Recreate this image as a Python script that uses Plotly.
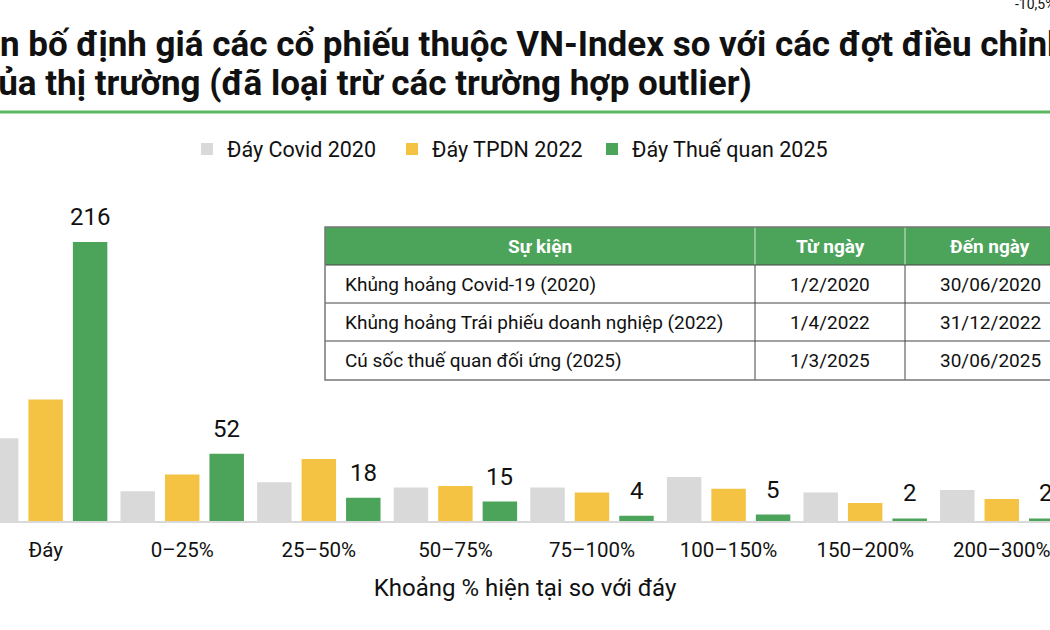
import plotly.graph_objects as go

categories = ["Đáy", "0–25%", "25–50%", "50–75%", "75–100%", "100–150%", "150–200%", "200–300%"]
covid_2020 = [64, 23, 30, 26, 26, 34, 22, 24]
tpdn_2022 = [94, 36, 48, 27, 22, 25, 14, 17]
thue_quan_2025 = [216, 52, 18, 15, 4, 5, 2, 2]
series_names = ["Đáy Covid 2020", "Đáy TPDN 2022", "Đáy Thuế quan 2025"]

table_header = ["Sự kiện", "Từ ngày", "Đến ngày"]
table_events = ["Khủng hoảng Covid-19 (2020)", "Khủng hoảng Trái phiếu doanh nghiệp (2022)", "Cú sốc thuế quan đối ứng (2025)"]
table_from = ["1/2/2020", "1/4/2022", "1/3/2025"]
table_to = ["30/06/2020", "31/12/2022", "30/06/2025"]

title_line1 = "Phân bố định giá các cổ phiếu thuộc VN-Index so với các đợt điều chỉnh"
title_line2 = "của thị trường (đã loại trừ các trường hợp outlier)"
x_title = "Khoảng % hiện tại so với đáy"

GREY = "#d9d9d9"
YELLOW = "#f5c344"
GREEN = "#4ca35a"
FONT = "Roboto"

W, H = 1050, 630
PLOT_TOP, PLOT_BOTTOM = 198, 521


def px_x(px):
    return px / W


def px_y(py):
    return (PLOT_BOTTOM - py) / (PLOT_BOTTOM - PLOT_TOP)


legend_ids = ["legend", "legend2", "legend3"]
legend_left_px = [187, 392, 592]

fig = go.Figure()
for name, vals, col, lg in zip(series_names, [covid_2020, tpdn_2022, thue_quan_2025], [GREY, YELLOW, GREEN], legend_ids):
    fig.add_trace(go.Bar(x=categories, y=vals, name=name, legend=lg, marker=dict(color=col, line=dict(width=0))))

annotations = []
# value labels above green bars
for c, v in zip(categories, thue_quan_2025):
    annotations.append(dict(x=c, y=v, xref="x", yref="y", text=str(v), showarrow=False,
                            xshift=44.5, yshift=9, yanchor="bottom",
                            font=dict(family=FONT, size=24, color="#111")))

# title (cropped at figure edges like the reference)
annotations.append(dict(x=px_x(-63), y=px_y(44), xref="paper", yref="paper", text="<b>" + title_line1 + "</b>",
                        showarrow=False, xanchor="left", yanchor="middle",
                        font=dict(family=FONT, size=35, color="#111")))
annotations.append(dict(x=px_x(-22), y=px_y(84), xref="paper", yref="paper", text="<b>" + title_line2 + "</b>",
                        showarrow=False, xanchor="left", yanchor="middle",
                        font=dict(family=FONT, size=35, color="#111")))
annotations.append(dict(x=px_x(1013), y=px_y(4), xref="paper", yref="paper", text="-10,5%",
                        showarrow=False, xanchor="left", yanchor="middle",
                        font=dict(family=FONT, size=14, color="#111")))

# table texts
tx0, tx1, tx2, tx3 = 325, 755, 905, 1075
ty = [227, 265, 303, 341, 380]
hdr_x = [(tx0 + tx1) / 2, (tx1 + tx2) / 2, (tx2 + tx3) / 2]
for hx, ht in zip(hdr_x, table_header):
    annotations.append(dict(x=px_x(hx), y=px_y((ty[0] + ty[1]) / 2), xref="paper", yref="paper",
                            text="<b>" + ht + "</b>", showarrow=False, xanchor="center", yanchor="middle",
                            font=dict(family=FONT, size=19, color="white")))
for i in range(3):
    yc = px_y((ty[i + 1] + ty[i + 2]) / 2)
    annotations.append(dict(x=px_x(343), y=yc, xref="paper", yref="paper", text=table_events[i],
                            showarrow=False, xanchor="left", yanchor="middle",
                            font=dict(family=FONT, size=19, color="#111")))
    annotations.append(dict(x=px_x(hdr_x[1]), y=yc, xref="paper", yref="paper", text=table_from[i],
                            showarrow=False, xanchor="center", yanchor="middle",
                            font=dict(family=FONT, size=19, color="#111")))
    annotations.append(dict(x=px_x(hdr_x[2]), y=yc, xref="paper", yref="paper", text=table_to[i],
                            showarrow=False, xanchor="center", yanchor="middle",
                            font=dict(family=FONT, size=19, color="#111")))

shapes = []
# green rule under title
shapes.append(dict(type="line", xref="paper", yref="paper", x0=0, x1=1, y0=px_y(112), y1=px_y(112),
                   line=dict(color="#5cb860", width=3)))
# table header fill
shapes.append(dict(type="rect", xref="paper", yref="paper", x0=px_x(tx0), x1=px_x(tx3), y0=px_y(ty[0]), y1=px_y(ty[1]),
                   fillcolor=GREEN, line=dict(width=0), layer="above"))
# header separators (light)
for vx in (tx1, tx2):
    shapes.append(dict(type="line", xref="paper", yref="paper", x0=px_x(vx), x1=px_x(vx), y0=px_y(ty[0]), y1=px_y(ty[1]),
                       line=dict(color="#cfe6d2", width=1), layer="above"))
# body lines
for vx in (tx1, tx2):
    shapes.append(dict(type="line", xref="paper", yref="paper", x0=px_x(vx), x1=px_x(vx), y0=px_y(ty[1]), y1=px_y(ty[4]),
                       line=dict(color="#444", width=1), layer="above"))
for hy in ty[1:4]:
    shapes.append(dict(type="line", xref="paper", yref="paper", x0=px_x(tx0), x1=px_x(tx3), y0=px_y(hy), y1=px_y(hy),
                       line=dict(color="#444", width=1), layer="above"))
shapes.append(dict(type="rect", xref="paper", yref="paper", x0=px_x(tx0), x1=px_x(tx3), y0=px_y(ty[0]), y1=px_y(ty[4]),
                   line=dict(color="#777", width=1.5), layer="above"))

legend_layout = {}
for lg, lx in zip(legend_ids, legend_left_px):
    legend_layout[lg] = dict(orientation="h", x=px_x(lx), xanchor="left", y=px_y(149), yanchor="middle",
                             font=dict(family=FONT, size=21.5, color="#111"), itemwidth=30,
                             bgcolor="rgba(0,0,0,0)", borderwidth=0)

fig.update_layout(
    width=W, height=H,
    margin=dict(l=0, r=0, t=PLOT_TOP, b=H - PLOT_BOTTOM, pad=0),
    paper_bgcolor="white", plot_bgcolor="white",
    barmode="group", bargap=0.023, bargroupgap=0.225,
    font=dict(family=FONT, size=20, color="#111"),
    showlegend=True,
    annotations=annotations,
    shapes=shapes,
    xaxis=dict(range=[-0.334, 7.353], showline=True, linecolor=GREY, linewidth=2, ticks="",
               showgrid=False, zeroline=False, tickfont=dict(family=FONT, size=20.5, color="#111"),
               ticklabelstandoff=9,
               title=dict(text=x_title, font=dict(family=FONT, size=24, color="#111"), standoff=19)),
    yaxis=dict(range=[0, 250], visible=False, showgrid=False, zeroline=False),
    **legend_layout,
)

fig.write_html("out.html", config={"displayModeBar": False},
               post_script="document.body.style.margin='0';document.body.style.overflow='hidden';")
